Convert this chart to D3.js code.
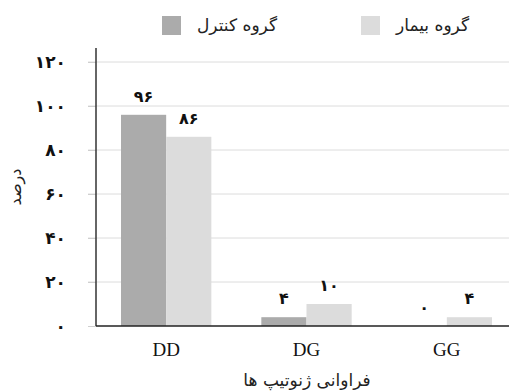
<!DOCTYPE html>
<html>
<head>
<meta charset="utf-8">
<script src="https://cdn.jsdelivr.net/npm/d3@7"></script>
<style>
  body { margin: 0; background: #fff; }
  svg { display: block; }
</style>
</head>
<body>
<div id="chart"></div>
<script>
var w = 509, h = 391;

var categories = ["DD", "DG", "GG"];
var seriesNames = ["گروه کنترل", "گروه بیمار"];
var controlValues = [96, 4, 0];
var patientValues = [86, 10, 4];
var yTicks = [0, 20, 40, 60, 80, 100, 120];
var colors = ["#ababab", "#dcdcdc"];

var faDigits = "۰۱۲۳۴۵۶۷۸۹";
function fa(n) {
  return String(n).replace(/\d/g, function(c) { return faDigits[+c]; });
}

var svg = d3.select("#chart")
  .append("svg")
  .attr("width", w)
  .attr("height", h);

// scales
var x0 = d3.scaleBand()
  .domain(categories)
  .range([96, 517])
  .padding(0);

var x1 = d3.scaleBand()
  .domain(d3.range(seriesNames.length))
  .range([25, x0.bandwidth() - 25])
  .padding(0);

var y = d3.scaleLinear()
  .domain([0, 120])
  .range([326, 62]);

// gridlines
svg.append("g")
  .selectAll("line")
  .data(yTicks.filter(function(d) { return d > 0; }))
  .enter()
  .append("line")
  .attr("x1", 88)
  .attr("x2", w)
  .attr("y1", function(d) { return y(d); })
  .attr("y2", function(d) { return y(d); })
  .attr("stroke", "#dcdcdc")
  .attr("stroke-width", 1);

// y axis
var yAxis = d3.axisLeft(y)
  .tickValues(yTicks)
  .tickSize(8)
  .tickPadding(22)
  .tickFormat(fa);

var gy = svg.append("g")
  .attr("transform", "translate(96,0)")
  .call(yAxis);
gy.select(".domain").remove();
gy.selectAll(".tick line").attr("stroke", "#cfcfcf");
gy.selectAll(".tick text")
  .attr("font-family", "DejaVu Sans, sans-serif")
  .attr("font-size", 17)
  .attr("font-weight", "bold")
  .attr("fill", "#111");

svg.append("line")
  .attr("x1", 96).attr("x2", 96)
  .attr("y1", 48).attr("y2", y(0))
  .attr("stroke", "#333")
  .attr("stroke-width", 1.5);

// bars
var groups = svg.append("g")
  .selectAll("g")
  .data(categories)
  .enter()
  .append("g")
  .attr("transform", function(d) { return "translate(" + x0(d) + ",0)"; });

var rows = function(d, i) {
  return [controlValues[i], patientValues[i]].map(function(v, k) {
    return { key: k, value: v };
  });
};

groups.selectAll("rect")
  .data(rows)
  .enter()
  .append("rect")
  .attr("x", function(d) { return x1(d.key); })
  .attr("width", x1.bandwidth())
  .attr("y", function(d) { return y(d.value); })
  .attr("height", function(d) { return y(0) - y(d.value); })
  .attr("fill", function(d) { return colors[d.key]; });

groups.selectAll("text")
  .data(rows)
  .enter()
  .append("text")
  .attr("x", function(d) { return x1(d.key) + x1.bandwidth() / 2; })
  .attr("y", function(d) { return y(d.value) - 13; })
  .attr("text-anchor", "middle")
  .attr("font-family", "DejaVu Sans, sans-serif")
  .attr("font-size", 16)
  .attr("font-weight", "bold")
  .attr("fill", "#111")
  .text(function(d) { return fa(d.value); });

// x axis
svg.append("line")
  .attr("x1", 96).attr("x2", w)
  .attr("y1", y(0)).attr("y2", y(0))
  .attr("stroke", "#222")
  .attr("stroke-width", 1.5);

var xAxis = d3.axisBottom(x0).tickSize(0).tickPadding(17);
var gx = svg.append("g")
  .attr("transform", "translate(0," + y(0) + ")")
  .call(xAxis);
gx.select(".domain").remove();
gx.selectAll(".tick text")
  .attr("font-family", "Liberation Serif, serif")
  .attr("font-size", 19)
  .attr("fill", "#111");

// axis titles
svg.append("text")
  .attr("x", 307)
  .attr("y", 386)
  .attr("text-anchor", "middle")
  .attr("font-family", "DejaVu Sans, sans-serif")
  .attr("font-size", 17)
  .attr("fill", "#222")
  .text("فراوانی ژنوتیپ ها");

svg.append("text")
  .attr("transform", "translate(21,187) rotate(-90)")
  .attr("text-anchor", "middle")
  .attr("font-family", "DejaVu Sans, sans-serif")
  .attr("font-size", 16)
  .attr("fill", "#222")
  .text("درصد");

// legend
var legendX = [162, 361];
var legend = svg.append("g")
  .selectAll("g")
  .data(seriesNames)
  .enter()
  .append("g")
  .attr("transform", function(d, i) { return "translate(" + legendX[i] + ",16)"; });

legend.append("rect")
  .attr("width", 19)
  .attr("height", 19)
  .attr("fill", function(d, i) { return colors[i]; });

legend.append("text")
  .attr("x", 35)
  .attr("y", 15)
  .attr("text-anchor", "start")
  .attr("font-family", "DejaVu Sans, sans-serif")
  .attr("font-size", 17)
  .attr("fill", "#222")
  .text(function(d) { return d; });
</script>
</body>
</html>
